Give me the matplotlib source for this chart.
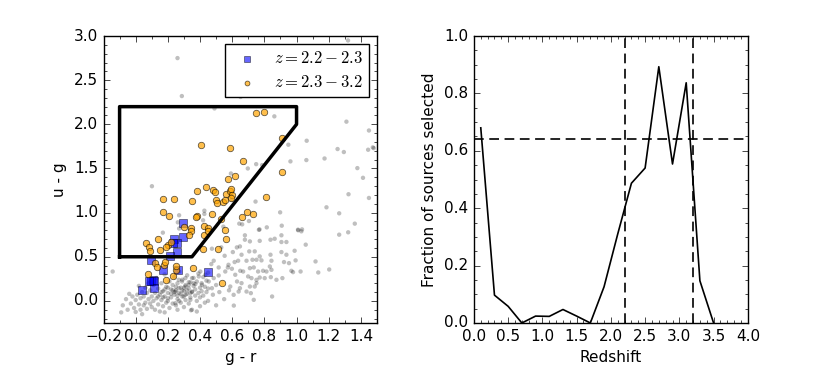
import matplotlib
matplotlib.use("Agg")
import matplotlib.pyplot as plt
from matplotlib.ticker import MultipleLocator

plt.style.use('classic')

# colour selection box in (g-r, u-g)
box_x = [-0.1, -0.1, 1.0, 1.0, 0.35, -0.1]
box_y = [0.5, 2.2, 2.2, 2.0, 0.5, 0.5]

# z = 2.2-2.3 sources
blue_x = [0.297, 0.295, 0.237, 0.258, 0.232, 0.258, 0.214, 0.266, 0.45, 0.167,
          0.095, 0.095, 0.108, 0.116, 0.111, 0.039, 0.085]
blue_y = [0.887, 0.727, 0.697, 0.652, 0.655, 0.557, 0.508, 0.348, 0.33, 0.345,
          0.466, 0.231, 0.235, 0.22, 0.144, 0.125, 0.22]

# z = 2.3-3.2 sources
orange_x = [0.751, 0.80, 0.912, 0.912, 0.404, 0.584, 0.668, 0.617, 0.573, 0.435,
            0.384, 0.478, 0.493, 0.559, 0.586, 0.594, 0.596, 0.592, 0.502, 0.505,
            0.542, 0.553, 0.169, 0.239, 0.349, 0.807, 0.172, 0.208, 0.384, 0.373,
            0.474, 0.691, 0.730, 0.662, 0.303, 0.347, 0.423, 0.452, 0.530,
            0.062, 0.136, 0.084, 0.087, 0.202, 0.219, 0.188, 0.151, 0.121, 0.173,
            0.134, 0.183, 0.074, 0.188, 0.229, 0.344, 0.33, 0.425, 0.45, 0.557,
            0.563, 0.416, 0.511, 0.355, 0.538, 0.253, 0.25]
orange_y = [2.13, 2.14, 1.845, 1.459, 1.765, 1.731, 1.587, 1.409, 1.379, 1.292,
            1.246, 1.261, 1.231, 1.216, 1.246, 1.272, 1.197, 1.163, 1.148, 1.114,
            1.125, 1.148, 1.159, 1.159, 1.137, 1.182, 1.003, 0.962, 0.966, 0.954,
            0.988, 1.011, 0.989, 0.955, 0.837, 0.830, 0.845, 0.826, 0.924,
            0.652, 0.701, 0.61, 0.561, 0.637, 0.668, 0.61, 0.572, 0.432, 0.41,
            0.38, 0.443, 0.303, 0.239, 0.285, 0.796, 0.743, 0.743, 0.788, 0.807,
            0.703, 0.59, 0.59, 0.371, 0.201, 0.35, 0.39]

# all other sources
gray_x = [0.26, 0.287, 0.652, 0.49, 0.862, 1.32, 1.31, 1.45, 1.48,
          0.949, 1.063, 1.255, 1.294, 1.445, 1.474, 0.962, 1.061, 1.174, 0.697,
          0.749, 0.786, 1.378, 1.413, 1.323, 1.45, 0.745, 1.186, 1.265, 0.898,
          0.704, 0.908, 1.362, 0.662, 0.77, 0.815, 1.034, 1.01,
          0.101, 0.592, 0.598, 0.427, 0.427, 0.27, 0.262, 0.419, 0.644, 0.545,
          0.27, 0.169,
          1.265, 1.321, 1.118, 1.135, 1.203,
          0.679, 0.679, 0.766, 0.648, 0.71, 0.771, 0.838, 0.864, 0.906, 0.906,
          0.937, 1.057, 1.03, 1.009, 0.74, 0.706, 0.658, 0.771, 0.838, 0.844,
          0.689, 0.726, 0.751, 0.782, 0.906, 0.937, 0.988, 0.922, 0.953, 0.994,
          1.025, 0.968, 0.978, 0.834, 0.844, 0.813, 0.792, 0.761, 0.734, 0.71,
          0.668, 0.699, 0.72, 0.751, 0.771, 0.802, 0.84, 0.875, 0.912, 0.751,
          0.74, 0.71, 0.689, 0.716, 0.648, 0.658, 0.734, 0.848,
          0.474, 0.532, 0.604, 0.629, 0.637, 0.553, 0.485, 0.47, 0.577, 0.615,
          0.516, 0.573, 0.402, 0.433, 0.392, 0.35, 0.309, 0.268, 0.288, 0.33,
          0.371, 0.412, 0.454, 0.485, 0.516, 0.557, 0.598, 0.619, 0.65, 0.588,
          0.64, 0.609, 0.474, 0.35, 0.309, 0.268, 0.247, 0.299, 0.34, 0.247,
          -0.143, -0.08, -0.06, -0.05, -0.03, -0.02, -0.01, 0.0, 0.0, 0.01,
          0.02, 0.03, 0.03, 0.04, 0.05, 0.05, 0.06, 0.06, 0.07, 0.07,
          0.08, 0.08, 0.09, 0.09, 0.1, 0.1, -0.04, -0.09, 0.02, 0.04,
          0.11, 0.11, 0.12, 0.12, 0.13, 0.13, 0.14, 0.14, 0.15, 0.15,
          0.16, 0.16, 0.17, 0.17, 0.18, 0.18, 0.19, 0.19, 0.2, 0.2,
          0.21, 0.21, 0.22, 0.22, 0.23, 0.23, 0.24, 0.24, 0.25, 0.25,
          0.26, 0.26, 0.27, 0.27, 0.28, 0.28, 0.29, 0.29, 0.3, 0.3,
          0.31, 0.31, 0.32, 0.32, 0.33, 0.33, 0.34, 0.34, 0.35, 0.35,
          0.36, 0.36, 0.37, 0.37, 0.38, 0.38, 0.39, 0.39, 0.4, 0.4,
          0.41, 0.41, 0.42, 0.42, 0.43, 0.43, 0.44, 0.44, 0.45, 0.45,
          0.14, 0.16, 0.18, 0.2, 0.22, 0.24, 0.26, 0.28, 0.3, 0.32,
          0.34, 0.36, 0.2, 0.25, 0.29, 0.33, 0.17, 0.23, 0.27, 0.31,
          0.61, 0.344, 0.5, 0.55, 0.45, 0.52, 0.48, 0.58, 0.63, 0.5,
          0.4, 0.38, 0.26, 0.18]
gray_y = [2.75, 2.32, 2.31, 2.18, 2.09, 2.95, 2.03, 1.93, 1.73,
          1.769, 1.814, 1.72, 1.686, 1.712, 1.739, 1.58, 1.595, 1.613, 1.5,
          1.549, 1.538, 1.504, 1.394, 1.208, 1.166, 1.125, 1.06, 0.992, 1.003,
          0.905, 0.852, 0.875, 0.867, 0.81, 0.833, 0.81, 0.80,
          1.299, 1.443, 1.144, 1.022, 0.985, 0.97, 0.89, 0.913, 0.875, 0.841,
          0.82, 0.773,
          0.75, 0.777, 0.447, 0.322, 0.356,
          0.743, 0.693, 0.805, 0.617, 0.674, 0.68, 0.693, 0.704, 0.743, 0.667,
          0.667, 0.637, 0.788, 0.807, 0.561, 0.561, 0.523, 0.504, 0.523, 0.455,
          0.455, 0.466, 0.466, 0.459, 0.553, 0.523, 0.568, 0.44, 0.428, 0.459,
          0.333, 0.341, 0.326, 0.39, 0.352, 0.333, 0.341, 0.333, 0.379, 0.371,
          0.333, 0.277, 0.258, 0.239, 0.265, 0.258, 0.269, 0.239, 0.258, 0.201,
          0.163, 0.163, 0.106, 0.088, 0.144, 0.201, 0.012, 0.05,
          0.591, 0.606, 0.553, 0.606, 0.455, 0.511, 0.455, 0.417, 0.409, 0.44,
          0.379, 0.379, 0.333, 0.296, 0.277, 0.258, 0.258, 0.239, 0.22, 0.212,
          0.19, 0.182, 0.22, 0.258, 0.288, 0.333, 0.364, 0.296, 0.341, 0.163,
          0.106, 0.069, 0.144, 0.106, 0.163, 0.144, 0.106, 0.05, 0.012, -0.026,
          0.333, -0.05, 0.02, -0.1, -0.03, 0.05, -0.08, 0.01, -0.125, 0.07,
          -0.04, 0.03, -0.1, 0.1, -0.05, 0.05, 0.15, -0.02, 0.09, -0.09,
          0.02, 0.2, -0.03, 0.12, 0.05, -0.07, 0.08, -0.13, 0.17, -0.15,
          0.0, 0.18, -0.1, 0.09, 0.03, 0.26, -0.04, 0.14, 0.07, -0.12,
          0.2, 0.01, 0.11, -0.06, 0.05, 0.3, 0.16, -0.02, 0.09, 0.0,
          0.22, -0.08, 0.13, 0.04, 0.18, -0.03, 0.07, 0.27, 0.12, -0.05,
          0.02, 0.2, 0.09, 0.33, 0.15, -0.02, 0.05, 0.24, 0.11, -0.07,
          0.18, 0.01, 0.08, 0.29, 0.14, -0.03, 0.21, 0.04, 0.1, -0.1,
          0.17, 0.26, 0.06, 0.13, 0.22, 0.0, 0.09, 0.31, 0.15, 0.04,
          0.2, 0.11, 0.27, 0.06, 0.16, -0.02, 0.23, 0.1, 0.32, 0.14,
          0.05, 0.1, 0.13, 0.15, 0.08, 0.1, 0.06, 0.08, 0.15, 0.12,
          0.09, 0.2, 0.03, 0.16, 0.12, 0.18, 0.04, 0.12, 0.0, 0.07,
          -0.053, -0.106, -0.05, 0.02, 0.0, 0.1, 0.07, 0.12, 0.22, 0.18,
          -0.06, -0.12, -0.1, -0.13]

# fraction of sources selected vs redshift
z_bins = [0.1, 0.3, 0.5, 0.7, 0.9, 1.1, 1.3, 1.5, 1.7, 1.9, 2.1, 2.3, 2.5,
          2.7, 2.9, 3.1, 3.3, 3.5]
frac = [0.68, 0.097, 0.058, 0.0, 0.024, 0.023, 0.047, 0.024, 0.0, 0.126,
        0.31, 0.487, 0.54, 0.893, 0.554, 0.837, 0.147, 0.0]
frac_mean = 0.64
z_lo, z_hi = 2.2, 3.2

fig = plt.figure(figsize=(8.3, 3.69), dpi=100, facecolor='white')

ax1 = fig.add_axes([0.1247, 0.1247, 0.3295, 0.7777])
ax1.scatter(gray_x, gray_y, s=10, c='k', edgecolors='none', alpha=0.25)
ax1.plot(box_x, box_y, color='k', lw=2.5)
ax1.scatter(blue_x, blue_y, s=28, marker='s', c='blue', edgecolors='k',
            linewidths=0.5, alpha=0.6, label=r'$z=2.2-2.3$')
ax1.scatter(orange_x, orange_y, s=22, marker='o', c='orange', edgecolors='k',
            linewidths=0.5, alpha=0.7, label=r'$z=2.3-3.2$')
ax1.set_xlim(-0.2, 1.5)
ax1.set_ylim(-0.25, 3.0)
ax1.xaxis.set_major_locator(MultipleLocator(0.2))
ax1.xaxis.set_minor_locator(MultipleLocator(0.1))
ax1.yaxis.set_major_locator(MultipleLocator(0.5))
ax1.yaxis.set_minor_locator(MultipleLocator(0.1))
ax1.set_xlabel('g - r', fontsize=11)
ax1.set_ylabel('u - g', fontsize=11)
ax1.legend(loc='upper right', scatterpoints=1, fontsize=12, markerscale=0.75,
           handlelength=1.9, handletextpad=0.7, borderaxespad=0.45,
           labelspacing=0.35, borderpad=0.35)

ax2 = fig.add_axes([0.571, 0.1247, 0.330, 0.7777])
ax2.plot(z_bins, frac, color='k', lw=1.2)
ax2.axhline(frac_mean, color='k', ls='--', lw=1.2, dashes=(7, 4))
ax2.axvline(z_lo, color='k', ls='--', lw=1.2, dashes=(7, 4))
ax2.axvline(z_hi, color='k', ls='--', lw=1.2, dashes=(7, 4))
ax2.set_xlim(0, 4.0)
ax2.set_ylim(0, 1.0)
ax2.xaxis.set_major_locator(MultipleLocator(0.5))
ax2.xaxis.set_minor_locator(MultipleLocator(0.1))
ax2.yaxis.set_major_locator(MultipleLocator(0.2))
ax2.yaxis.set_minor_locator(MultipleLocator(0.05))
ax2.set_xlabel('Redshift', fontsize=11)
ax2.set_ylabel('Fraction of sources selected', fontsize=11)

for ax in (ax1, ax2):
    ax.tick_params(labelsize=11)

fig.savefig('out.png', dpi=100, facecolor='white')
